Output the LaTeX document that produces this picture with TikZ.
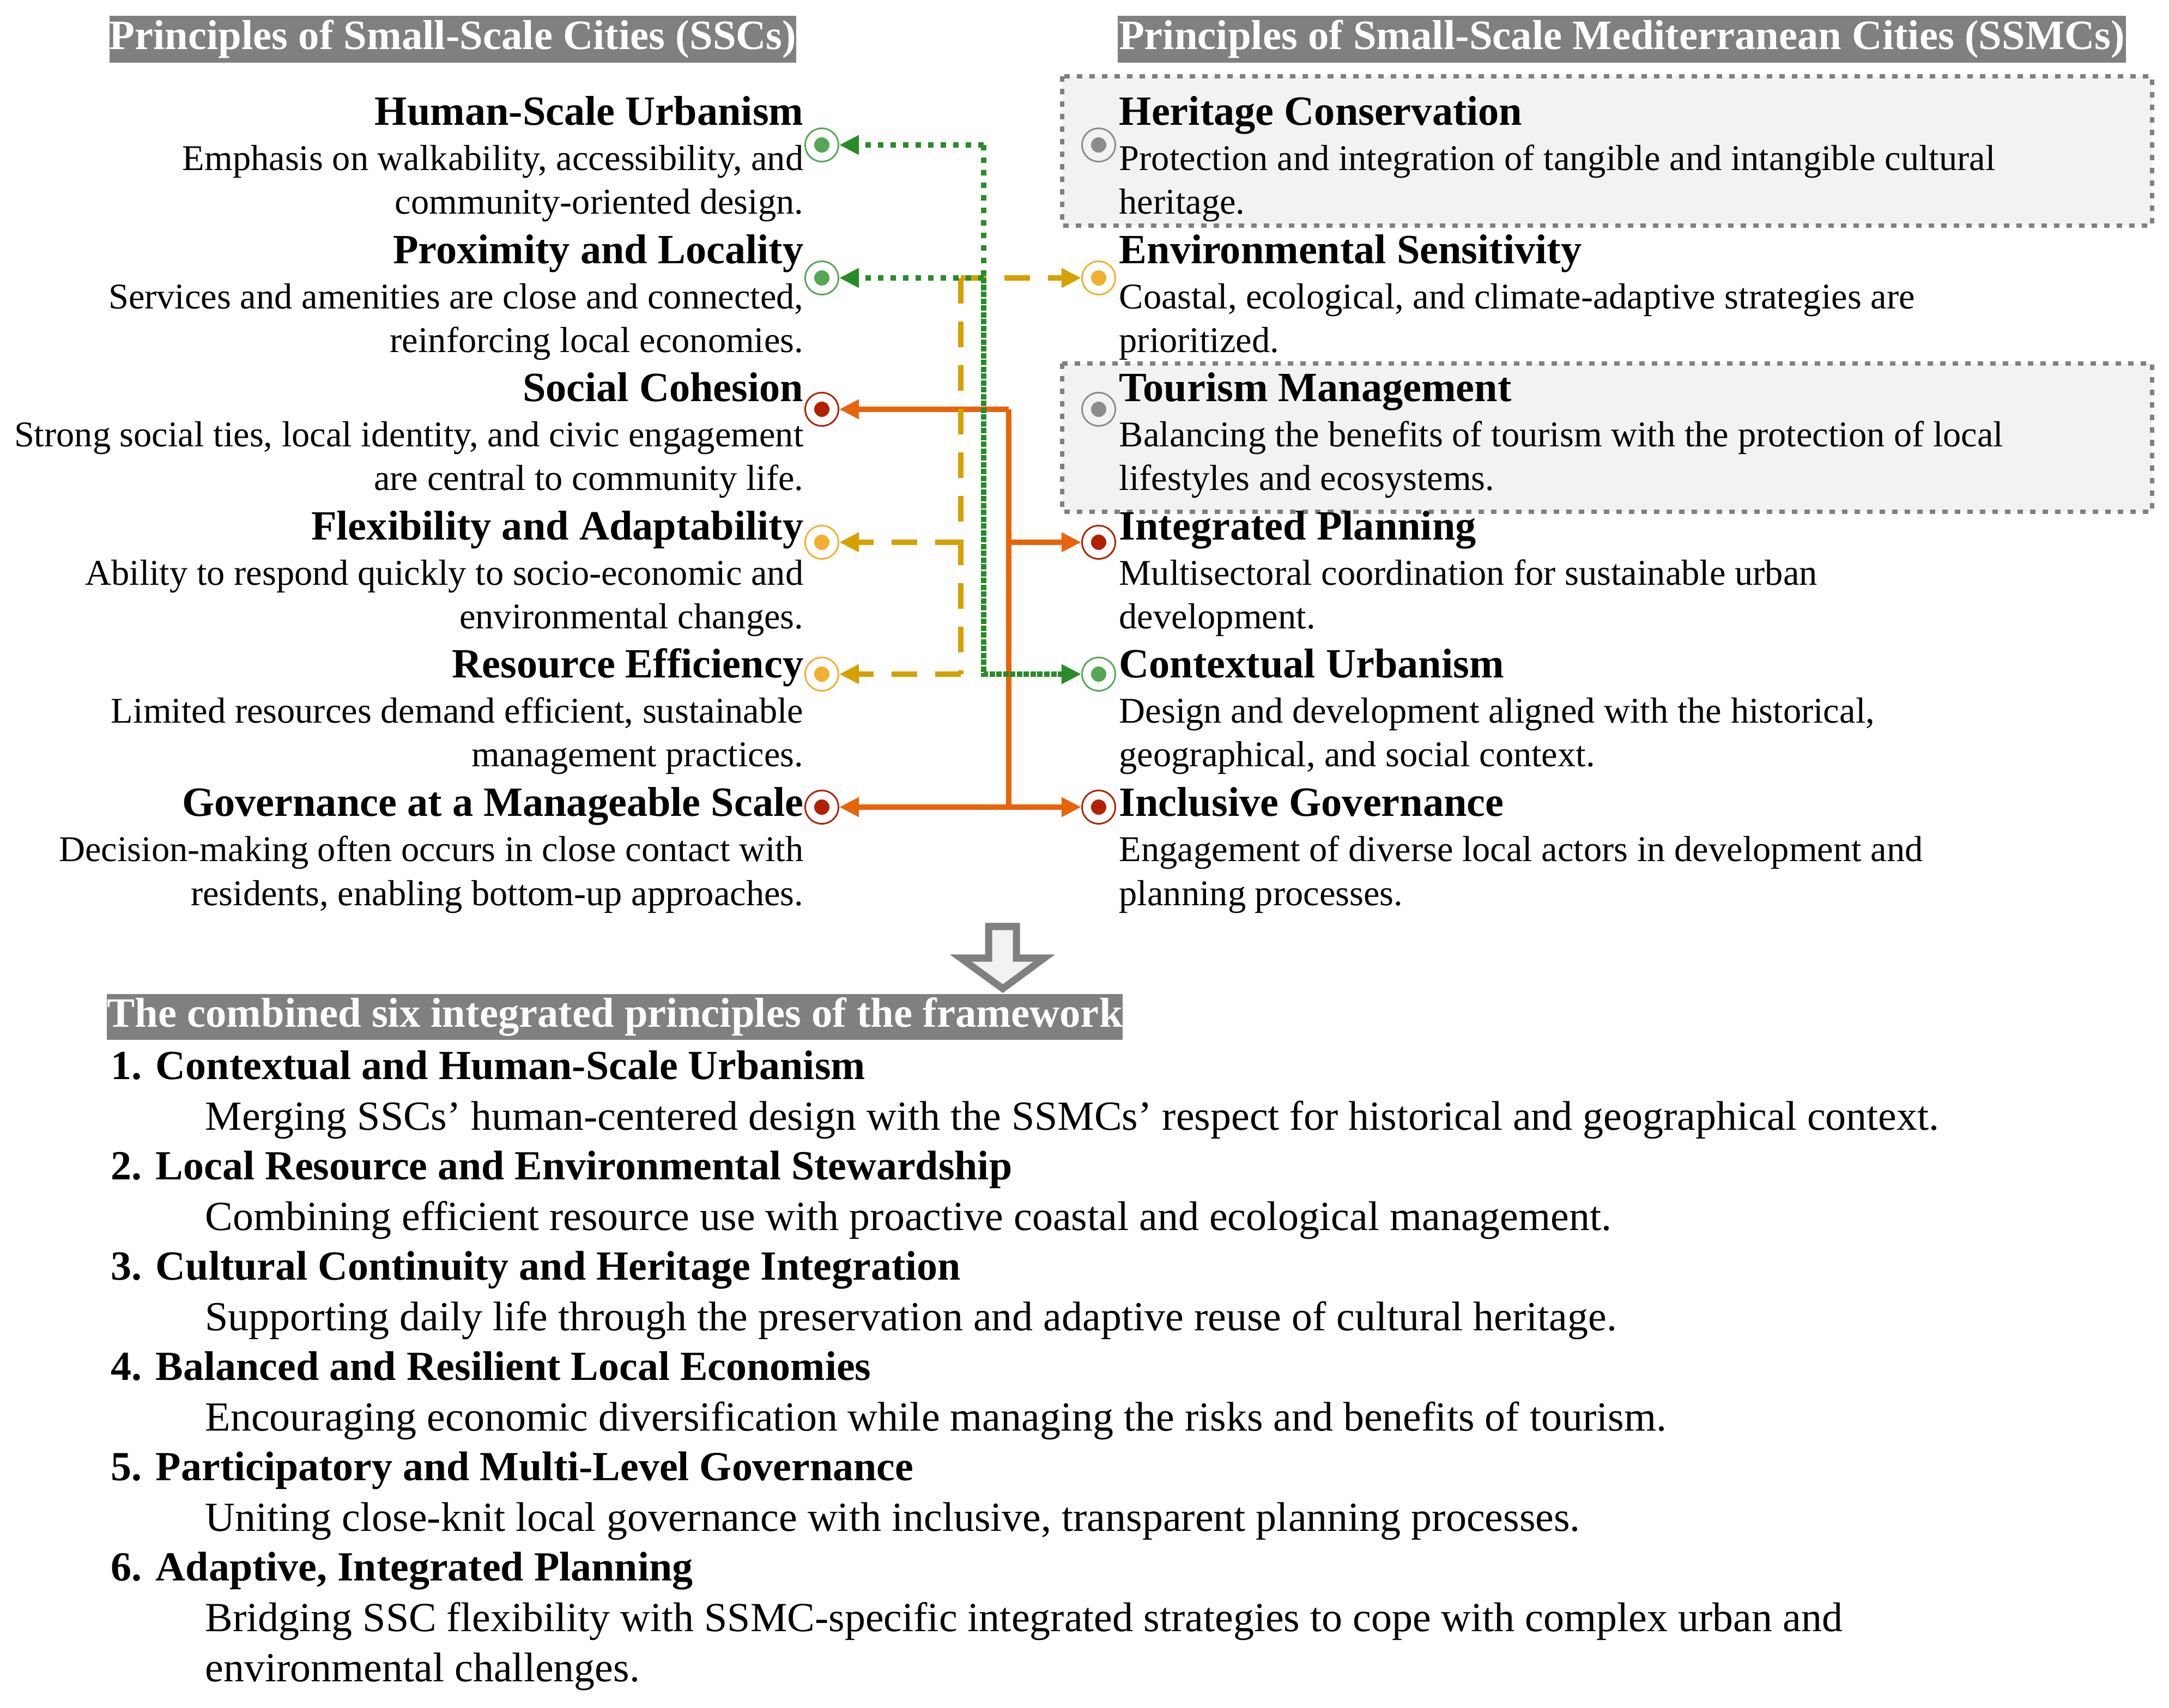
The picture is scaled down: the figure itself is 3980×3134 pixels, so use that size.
\documentclass[tikz,border=0pt]{standalone}
\usepackage{fontspec}
\setmainfont{Liberation Serif}
\usepackage{xcolor}
\usepackage{tikz}
\usetikzlibrary{arrows.meta}

\definecolor{barGray}{RGB}{128,128,128}
\definecolor{boxFill}{RGB}{242,242,242}
\definecolor{lineGreen}{RGB}{40,140,40}
\definecolor{dotGreen}{RGB}{84,168,84}
\definecolor{lineYellow}{RGB}{214,160,0}
\definecolor{dotYellow}{RGB}{242,176,48}
\definecolor{lineOrange}{RGB}{232,100,10}
\definecolor{dotRed}{RGB}{178,32,0}
\definecolor{dotGray}{RGB}{140,140,140}

\tikzset{
  titlebar/.style={fill=barGray, text=white, inner sep=0pt, minimum height=0.86cm,
    font=\fontsize{21.8}{24}\selectfont\bfseries},
  lhead/.style={anchor=base east, inner sep=0pt, font=\fontsize{21.7}{24}\selectfont\bfseries},
  ldesc/.style={anchor=base east, align=right, inner sep=0pt, font=\fontsize{18.9}{22.8}\selectfont},
  rhead/.style={anchor=base west, inner sep=0pt, font=\fontsize{21.7}{24}\selectfont\bfseries},
  rdesc/.style={anchor=base west, align=left, inner sep=0pt, font=\fontsize{18.9}{22.8}\selectfont},
  bhead/.style={anchor=base west, inner sep=0pt, font=\fontsize{21.6}{24}\selectfont\bfseries},
  bdesc/.style={anchor=base west, align=left, inner sep=0pt, font=\fontsize{21.6}{26}\selectfont},
  ring/.style={circle, draw=#1, line width=0.85pt, minimum size=0.61cm, inner sep=0pt,
    path picture={\fill[#1] (path picture bounding box.center) circle (0.14cm);}},
  graybox/.style={fill=boxFill, draw=barGray, line width=0.08cm, dash pattern=on 0.1cm off 0.13cm},
  tip/.style={-{Triangle[length=0.36cm,width=0.34cm]}},
  greenln/.style={lineGreen, line width=0.1cm, dash pattern=on 0.1cm off 0.13cm},
  greendense/.style={lineGreen, line width=0.1cm, dash pattern=on 0.1cm off 0.025cm},
  yelln/.style={lineYellow, line width=0.1cm, dash pattern=on 0.47cm off 0.33cm},
  orln/.style={lineOrange, line width=0.1cm},
}

\begin{document}
\begin{tikzpicture}[x=0.01cm, y=-0.01cm]
    \useasboundingbox (0,0) rectangle (3980,3134);

    % Title bars
    \node[titlebar, minimum width=12.6cm] (sscT) at (831,72) {Principles of Small-Scale Cities (SSCs)};
    \node[titlebar, minimum width=18.48cm] (ssmcT) at (2976,72) {Principles of Small-Scale Mediterranean Cities (SSMCs)};

    % Gray boxes behind SSMC-only principles
    \draw[graybox] (1949,140) rectangle (3949,414);
    \draw[graybox] (1949,667) rectangle (3949,939);

    % Left column: SSCs (desc nodes sit on their last baseline)
    \node[lhead] (hsu) at (1475,230) {Human-Scale Urbanism};
    \node[ldesc] (hsud) at (1475,393) {Emphasis on walkability, accessibility, and\\community-oriented design.};
    \node[lhead] (pal) at (1475,484) {Proximity and Locality};
    \node[ldesc] (pald) at (1475,647) {Services and amenities are close and connected,\\reinforcing local economies.};
    \node[lhead] (soc) at (1475,737) {Social Cohesion};
    \node[ldesc] (socd) at (1475,900) {Strong social ties, local identity, and civic engagement\\are central to community life.};
    \node[lhead] (fla) at (1475,991) {Flexibility and Adaptability};
    \node[ldesc] (flad) at (1475,1154) {Ability to respond quickly to socio-economic and\\environmental changes.};
    \node[lhead] (ref) at (1475,1244) {Resource Efficiency};
    \node[ldesc] (refd) at (1475,1407) {Limited resources demand efficient, sustainable\\management practices.};
    \node[lhead] (gms) at (1475,1498) {Governance at a Manageable Scale};
    \node[ldesc] (gmsd) at (1475,1661) {Decision-making often occurs in close contact with\\residents, enabling bottom-up approaches.};

    % Right column: SSMCs
    \node[rhead] (hco) at (2053,230) {Heritage Conservation};
    \node[rdesc] (hcod) at (2053,393) {Protection and integration of tangible and intangible cultural\\heritage.};
    \node[rhead] (ens) at (2053,484) {Environmental Sensitivity};
    \node[rdesc] (ensd) at (2053,647) {Coastal, ecological, and climate-adaptive strategies are\\prioritized.};
    \node[rhead] (tom) at (2053,737) {Tourism Management};
    \node[rdesc] (tomd) at (2053,900) {Balancing the benefits of tourism with the protection of local\\lifestyles and ecosystems.};
    \node[rhead] (inp) at (2053,991) {Integrated Planning};
    \node[rdesc] (inpd) at (2053,1154) {Multisectoral coordination for sustainable urban\\development.};
    \node[rhead] (cou) at (2053,1244) {Contextual Urbanism};
    \node[rdesc] (coud) at (2053,1407) {Design and development aligned with the historical,\\geographical, and social context.};
    \node[rhead] (ing) at (2053,1498) {Inclusive Governance};
    \node[rdesc] (ingd) at (2053,1661) {Engagement of diverse local actors in development and\\planning processes.};

    % Markers
    \node[ring=dotGreen] (l1) at (1508,266) {};
    \node[ring=dotGreen] (l2) at (1508,510) {};
    \node[ring=dotRed] (l3) at (1508,751) {};
    \node[ring=dotYellow] (l4) at (1508,995) {};
    \node[ring=dotYellow] (l5) at (1508,1237) {};
    \node[ring=dotRed] (l6) at (1508,1481) {};
    \node[ring=dotGray] (r1) at (2016,266) {};
    \node[ring=dotYellow] (r2) at (2016,510) {};
    \node[ring=dotGray] (r3) at (2016,751) {};
    \node[ring=dotRed] (r4) at (2016,995) {};
    \node[ring=dotGreen] (r5) at (2016,1237) {};
    \node[ring=dotRed] (r6) at (2016,1481) {};

    % Junctions
    \coordinate (otop) at (1851,751);
    \coordinate (omid) at (1851,995);
    \coordinate (obot) at (1851,1481);
    \coordinate (ytop) at (1763,510);
    \coordinate (ymid) at (1763,995);
    \coordinate (ybot) at (1763,1237);
    \coordinate (gtop) at (1805,266);
    \coordinate (gmid) at (1805,510);
    \coordinate (gbot) at (1805,1237);

    % Orange links (cohesion / governance / planning)
    \draw[orln, tip] (otop) -- (l3);
    \draw[orln] (otop) -- (obot);
    \draw[orln, tip] (omid) -- (r4);
    \draw[orln, tip] (obot) -- (l6);
    \draw[orln, tip] (obot) -- (r6);

    % Yellow links (environment / resources)
    \draw[yelln, tip] (ytop) -- (r2);
    \draw[yelln] (ytop) -- (ybot);
    \draw[yelln, tip] (ymid) -- (l4);
    \draw[yelln, tip] (ybot) -- (l5);

    % Green links (urbanism / locality)
    \draw[greenln, tip] (gtop) -- (l1);
    \draw[greenln] (gtop) -- (gmid);
    \draw[greenln, tip] (gmid) -- (l2);
    \draw[greendense, tip] (gmid) -- (gbot) -- (r5);

    % Down arrow
    \draw[fill=boxFill, draw=barGray, line width=0.13cm, miter limit=4]
      (1814,1700) -- (1865,1700) -- (1865,1758) -- (1916,1758) -- (1840,1814)
      -- (1763,1758) -- (1814,1758) -- cycle;

    % Combined principles
    \node[titlebar, minimum width=18.58cm, minimum height=0.84cm] (combT) at (1128,1866) {The combined six integrated principles of the framework};
    \node[bhead] (b1) at (203,1980) {1. Contextual and Human-Scale Urbanism};
    \node[bdesc] (b1d) at (376,2073) {Merging SSCs’ human-centered design with the SSMCs’ respect for historical and geographical context.};
    \node[bhead] (b2) at (203,2164) {2. Local Resource and Environmental Stewardship};
    \node[bdesc] (b2d) at (376,2257) {Combining efficient resource use with proactive coastal and ecological management.};
    \node[bhead] (b3) at (203,2348) {3. Cultural Continuity and Heritage Integration};
    \node[bdesc] (b3d) at (376,2441) {Supporting daily life through the preservation and adaptive reuse of cultural heritage.};
    \node[bhead] (b4) at (203,2532) {4. Balanced and Resilient Local Economies};
    \node[bdesc] (b4d) at (376,2625) {Encouraging economic diversification while managing the risks and benefits of tourism.};
    \node[bhead] (b5) at (203,2716) {5. Participatory and Multi-Level Governance};
    \node[bdesc] (b5d) at (376,2809) {Uniting close-knit local governance with inclusive, transparent planning processes.};
    \node[bhead] (b6) at (203,2900) {6. Adaptive, Integrated Planning};
    \node[bdesc] (b6d) at (376,3085) {Bridging SSC flexibility with SSMC-specific integrated strategies to cope with complex urban and\\environmental challenges.};
\end{tikzpicture}
\end{document}
